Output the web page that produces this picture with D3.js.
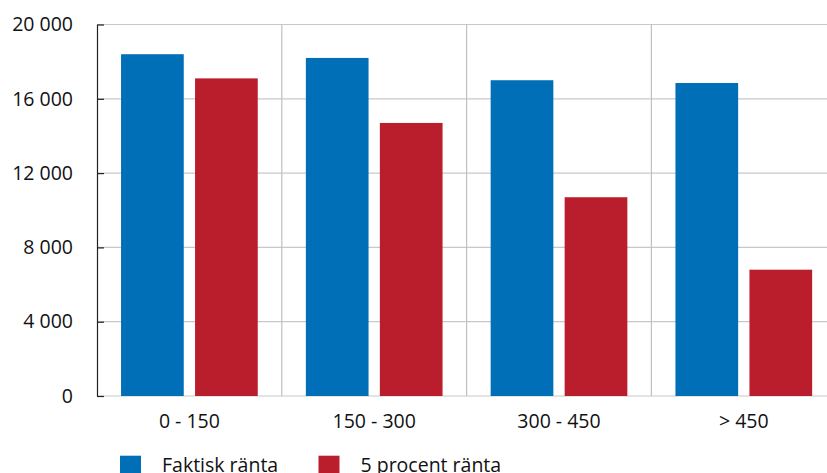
<!DOCTYPE html>
<html>
<head>
<meta charset="utf-8">
<script src="https://cdn.jsdelivr.net/npm/d3@7"></script>
<style>
  html, body { margin: 0; padding: 0; background: #fff; }
  svg { display: block; }
  text { font-family: "Open Sans", "Noto Sans", sans-serif; fill: #111; }
</style>
</head>
<body>
<svg id="chart" width="827" height="473"></svg>
<script>
const categories = ["0 - 150", "150 - 300", "300 - 450", "> 450"];
const seriesNames = ["Faktisk ränta", "5 procent ränta"];
const faktisk = [18400, 18200, 17000, 16850];
const femProcent = [17100, 14700, 10700, 6800];
const yTicks = [0, 4000, 8000, 12000, 16000, 20000];
const colors = ["#006fb8", "#ba1e2d"];

const svg = d3.select("#chart");
const mLeft = 97, mRight = 836.2, mTop = 24.5, mBottom = 396;

const x0 = d3.scaleBand().domain(categories).range([mLeft, mRight]).padding(0);
const x1 = d3.scaleBand().domain(seriesNames).range([0, x0.bandwidth()])
  .paddingInner(0.1527).paddingOuter(0.325);
const y = d3.scaleLinear().domain([0, 20000]).range([mBottom, mTop]);

const locale = d3.formatLocale({decimal: ",", thousands: " ", grouping: [3], currency: ["", ""]});
const fmt = locale.format(",d");

// horizontal gridlines
svg.append("g").selectAll("line").data(yTicks).join("line")
  .attr("x1", mLeft).attr("x2", mRight)
  .attr("y1", d => y(d)).attr("y2", d => y(d))
  .attr("stroke", "#c8c8c8").attr("stroke-width", 1.2);

// vertical separators
svg.append("g").selectAll("line").data(categories.slice(1)).join("line")
  .attr("x1", d => x0(d)).attr("x2", d => x0(d))
  .attr("y1", mTop).attr("y2", mBottom)
  .attr("stroke", "#c0c0c0").attr("stroke-width", 1.2);

// bars
const data = categories.map((c, i) => ({cat: c, vals: [faktisk[i], femProcent[i]]}));
const groups = svg.append("g").selectAll("g").data(data).join("g")
  .attr("transform", d => `translate(${x0(d.cat)},0)`);
groups.selectAll("rect").data(d => d.vals.map((v, j) => ({name: seriesNames[j], v, j}))).join("rect")
  .attr("x", d => x1(d.name))
  .attr("width", x1.bandwidth())
  .attr("y", d => y(d.v))
  .attr("height", d => y(0) - y(d.v))
  .attr("fill", d => colors[d.j]);

// y axis
const yAxis = d3.axisLeft(y).tickValues(yTicks).tickFormat(fmt).tickSizeInner(-7).tickSizeOuter(0).tickPadding(24);
const ya = svg.append("g").attr("transform", `translate(${mLeft},0)`).call(yAxis);
ya.select(".domain").attr("stroke", "#222").attr("stroke-width", 1.2);
ya.selectAll(".tick line").attr("stroke", "#222").attr("stroke-width", 1.2);
ya.selectAll(".tick text").attr("font-size", "19.5px").attr("font-family", "Open Sans").attr("fill", "#111");

// x axis labels
const xAxis = d3.axisBottom(x0).tickSize(0).tickPadding(18);
const xa = svg.append("g").attr("transform", `translate(0,${mBottom})`).call(xAxis);
xa.select(".domain").remove();
xa.selectAll(".tick text").attr("font-size", "19.5px").attr("font-family", "Open Sans").attr("fill", "#111");

// legend
const legendX = [120, 318.5];
const leg = svg.append("g").selectAll("g").data(seriesNames).join("g")
  .attr("transform", (d, i) => `translate(${legendX[i]},455.7)`);
leg.append("rect").attr("width", 21).attr("height", 21).attr("fill", (d, i) => colors[i]);
leg.append("text").attr("x", 42).attr("y", 16.5).attr("font-size", "19.5px").text(d => d);
</script>
</body>
</html>
